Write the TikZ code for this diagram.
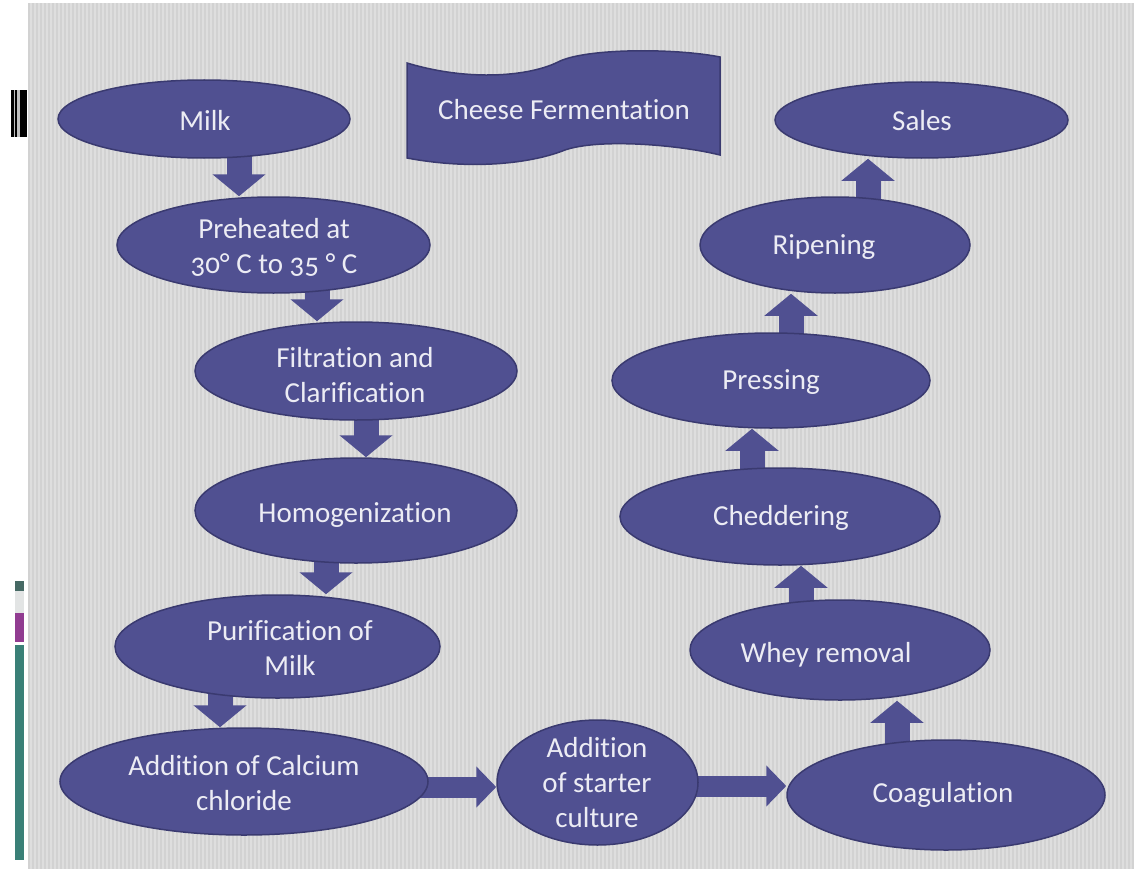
\documentclass[tikz,border=0pt]{standalone}
\usepackage{fontspec}
\setmainfont{Carlito}[Numbers=OldStyle,Ligatures=NoCommon]
\usetikzlibrary{shapes.geometric,arrows.meta,calc}
\pgfdeclarelayer{back}
\pgfdeclarelayer{mid}
\pgfsetlayers{back,mid,main}
\definecolor{boxfill}{RGB}{80,80,145}
\definecolor{boxline}{RGB}{58,58,112}
\definecolor{bggray}{RGB}{210,210,210}
\definecolor{bgstripe}{RGB}{222,222,222}
\definecolor{txtcol}{RGB}{236,236,244}
\definecolor{darkteal}{RGB}{70,105,100}
\definecolor{paleside}{RGB}{226,228,228}
\definecolor{sidepurple}{RGB}{145,60,145}
\definecolor{sideteal}{RGB}{58,128,119}
\begin{document}
\begin{tikzpicture}[x=1pt,y=-1pt,
  stage/.style={ellipse, fill=boxfill, draw=boxline, line width=1.5pt, inner sep=0pt},
  lbl/.style={text=txtcol, font=\fontsize{29}{35}\selectfont, align=center, inner sep=0pt},
  vflow/.style={boxfill, line width=25pt, -{Triangle[width=52pt,length=22pt]}},
  hflow/.style={boxfill, line width=21pt, -{Triangle[width=40pt,length=20pt]}},
]
\useasboundingbox (0,0) rectangle (1137,872);
\begin{pgfonlayer}{back}
  \fill[white] (0,0) rectangle (1137,872);
  \fill[bggray] (28,3) rectangle (1134,869);
  \foreach \x in {30,34,...,1130} \fill[bgstripe] (\x,3) rectangle ++(2,866);
  % left side marks
  \fill[black] (11,90) rectangle (27,137);
  \fill[gray!50] (13.5,90) rectangle (15,137);
  \fill[gray!50] (17,90) rectangle (19.5,137);
  \fill[darkteal] (15,581) rectangle (24,591);
  \fill[paleside] (15,591) rectangle (24,613);
  \fill[sidepurple] (15,613) rectangle (24,642);
  \fill[sideteal] (15,645) rectangle (24,860);
\end{pgfonlayer}

% title banner
\draw[fill=boxfill, draw=boxline, line width=1.5pt]
  (407,63) .. controls (470,82) and (530,76) .. (558,62)
  .. controls (585,48) and (675,48) .. (720,57)
  -- (720,155)
  .. controls (680,145) and (600,138) .. (565,150)
  .. controls (530,164) and (470,170) .. (407,158) -- cycle;
\node[lbl] (title) at (564,110) {Cheese Fermentation};

% stages
\node[stage, minimum width=292pt, minimum height=78pt]  (milk)    at (204,119)   {};
\node[stage, minimum width=313pt, minimum height=96pt]  (preheat) at (273.5,245) {};
\node[stage, minimum width=322pt, minimum height=98pt]  (filt)    at (356,371)   {};
\node[stage, minimum width=322pt, minimum height=105pt] (homog)   at (356,510.5) {};
\node[stage, minimum width=325pt, minimum height=103pt] (purif)   at (277.5,646.5) {};
\node[stage, minimum width=368pt, minimum height=107pt] (calcium) at (244,781.5) {};
\node[stage, minimum width=201pt, minimum height=125pt] (starter) at (597.5,782.5) {};
\node[stage, minimum width=318pt, minimum height=110pt] (coag)    at (946,795)   {};
\node[stage, minimum width=300pt, minimum height=100pt] (whey)    at (840,650)   {};
\node[stage, minimum width=320pt, minimum height=97pt]  (chedd)   at (780,516.5) {};
\node[stage, minimum width=318pt, minimum height=95pt]  (press)   at (771,380.5) {};
\node[stage, minimum width=270pt, minimum height=96pt]  (ripen)   at (835,245)   {};
\node[stage, minimum width=293pt, minimum height=76pt]  (sales)   at (921.5,120) {};

% labels
\node[lbl] (milk-t)    at (205,120) {Milk};
\node[lbl] (preheat-t) at (274,247) {Preheated at\\30° C to 35 ° C};
\node[lbl] (filt-t)    at (355,375) {Filtration and\\Clarification};
\node[lbl] (homog-t)   at (355,515) {Homogenization};
\node[lbl] (purif-t)   at (290,648) {Purification of\\Milk};
\node[lbl] (calcium-t) at (244,783) {Addition of Calcium\\chloride};
\node[lbl] (starter-t) at (597,783) {Addition\\of starter\\culture};
\node[lbl] (coag-t)    at (943,795) {Coagulation};
\node[lbl] (whey-t)    at (826,655) {Whey removal};
\node[lbl] (chedd-t)   at (781,518) {Cheddering};
\node[lbl] (press-t)   at (771,382) {Pressing};
\node[lbl] (ripen-t)   at (824,247) {Ripening};
\node[lbl] (sales-t)   at (922,121) {Sales};

% block arrows
\begin{pgfonlayer}{mid}
  \draw[vflow] (milk.center -| 239,0)    -- (preheat.north -| 239,0);
  \draw[vflow] (preheat.center -| 317,0) -- (filt.north -| 317,0);
  \draw[vflow] (filt.center -| 366,0)    -- (homog.north -| 366,0);
  \draw[vflow] (homog.center -| 326,0)   -- (purif.north -| 326,0);
  \draw[vflow] (purif.center -| 220,0)   -- (calcium.north -| 220,0);
  \draw[hflow] (calcium.center |- 0,787) -- (starter.west |- 0,787);
  \draw[hflow] (starter.center |- 0,786) -- (coag.west |- 0,786);
  \draw[vflow] (coag.center -| 897,0)    -- (whey.south -| 897,0);
  \draw[vflow] (whey.center -| 801,0)    -- (chedd.south -| 801,0);
  \draw[vflow] (chedd.center -| 752,0)   -- (press.south -| 752,0);
  \draw[vflow] (press.center -| 791,0)   -- (ripen.south -| 791,0);
  \draw[vflow] (ripen.center -| 868,0)   -- (sales.south -| 868,0);
\end{pgfonlayer}
\end{tikzpicture}
\end{document}
